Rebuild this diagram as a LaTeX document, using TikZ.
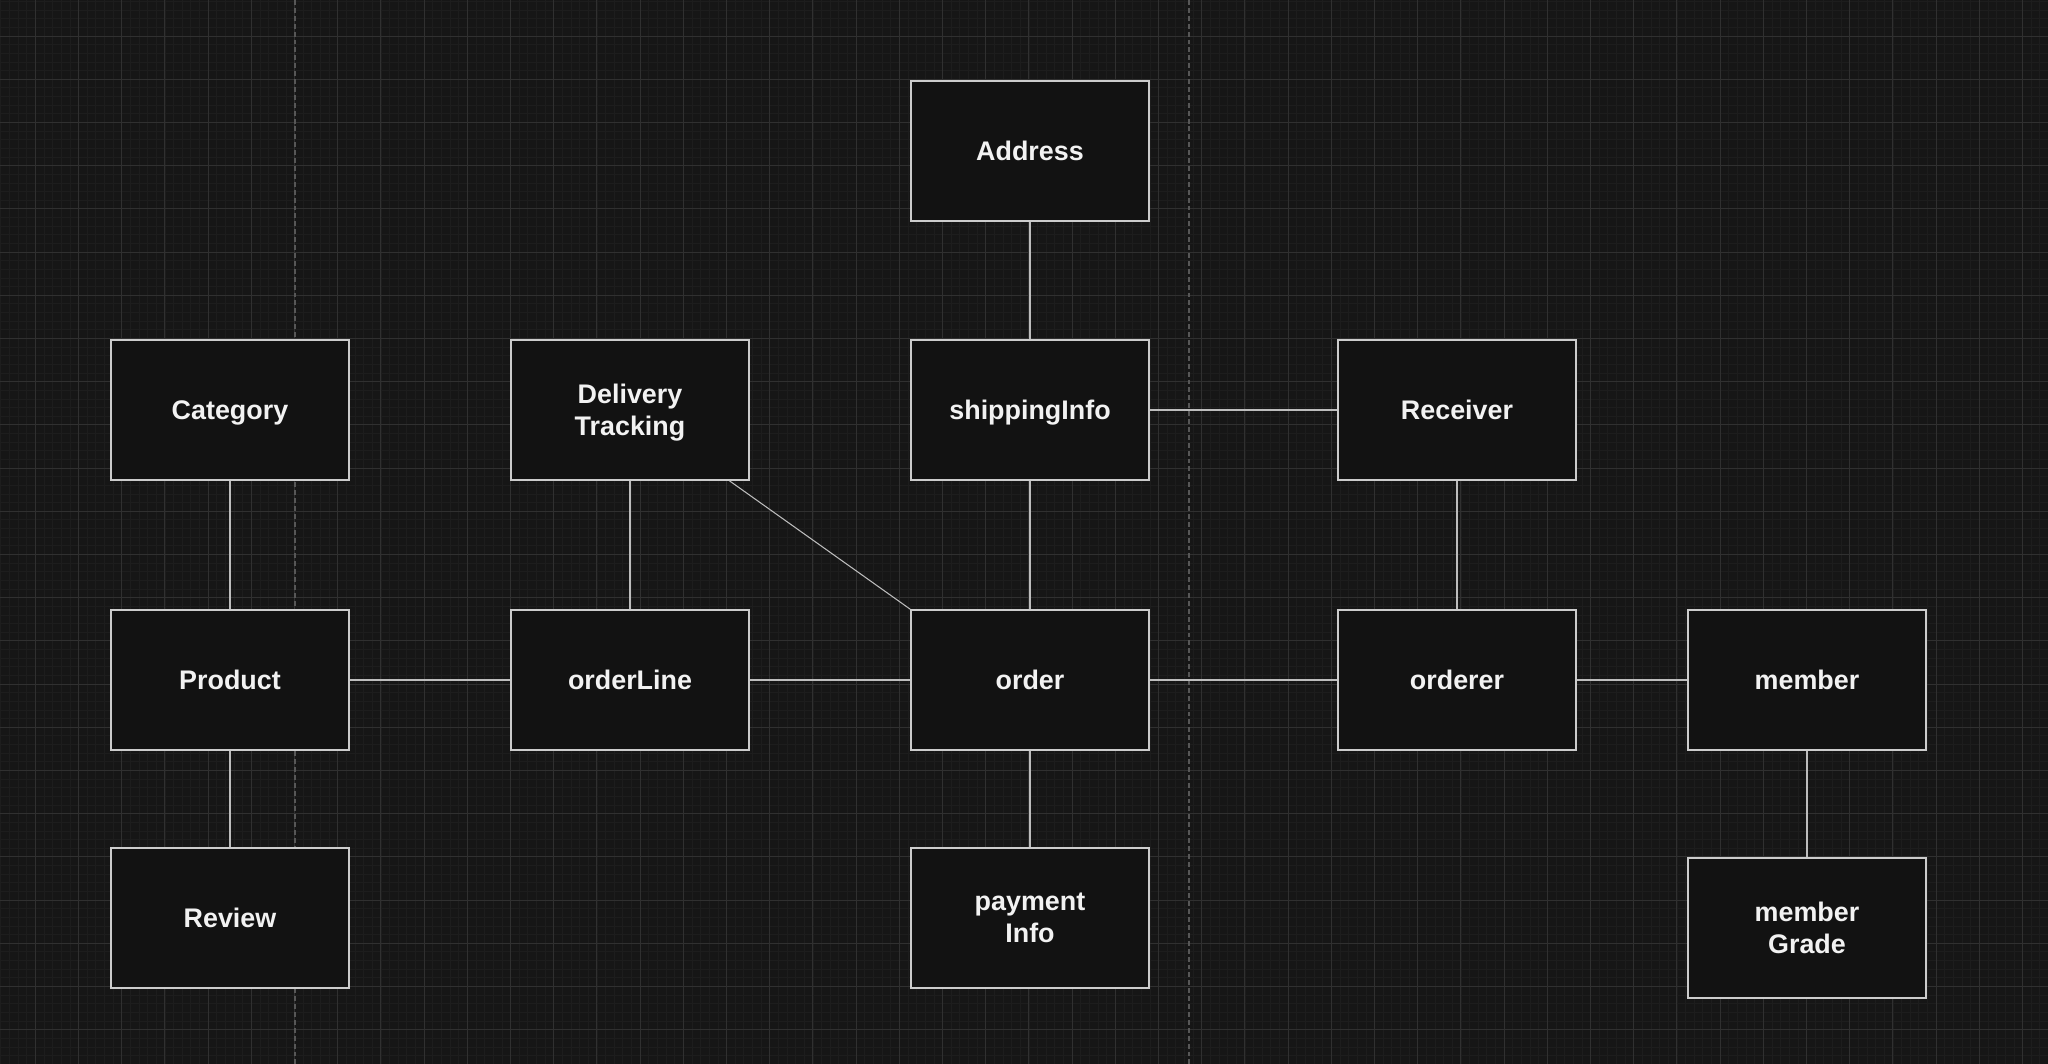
\documentclass[tikz,border=0pt]{standalone}
\usepackage{fontspec}
\setmainfont{Liberation Sans}
\definecolor{bgcol}{HTML}{161616}
\definecolor{gridmajor}{HTML}{303030}
\definecolor{gridminor}{HTML}{1D1D1D}
\definecolor{guidecol}{HTML}{575757}
\definecolor{boxfill}{HTML}{121212}
\definecolor{boxline}{HTML}{CCCCCC}
\definecolor{linkcol}{HTML}{BDBDBD}
\begin{document}
\begin{tikzpicture}[x=0.02cm, y=-0.02cm,
  entity/.style={draw=boxline, fill=boxfill, line width=0.9pt,
    minimum width=4.76cm, minimum height=2.8cm, inner sep=0pt,
    text depth=0pt, align=center, text=white!95!black,
    font=\bfseries\fontsize{15.3}{18.2}\selectfont},
  link/.style={draw=linkcol, line width=0.6pt}]
  \useasboundingbox (0,0) rectangle (2048,1064);
  % fondo y cuadricula
  \fill[bgcol] (0,0) rectangle (2048,1064);
  \foreach \i in {-5,...,237}
    \draw[gridminor, line width=0.4pt] ({35.3+8.64*\i},0) -- ++(0,1064);
  \foreach \j in {-5,...,124}
    \draw[gridminor, line width=0.4pt] (0,{36+8.64*\j}) -- ++(2048,0);
  \foreach \i in {-1,...,47}
    \draw[gridmajor, line width=0.5pt] ({35.3+43.2*\i},0) -- ++(0,1064);
  \foreach \j in {-1,...,24}
    \draw[gridmajor, line width=0.5pt] (0,{36+43.2*\j}) -- ++(2048,0);
  % guias
  \draw[guidecol, line width=0.6pt, dash pattern=on 2.8pt off 1.7pt] (295,0) -- (295,1064);
  \draw[guidecol, line width=0.6pt, dash pattern=on 2.8pt off 1.7pt] (1189,0) -- (1189,1064);
  % entidades
  \node[entity] (address)  at (1030,151) {Address};
  \node[entity] (category) at (230,410)  {Category};
  \node[entity] (delivery) at (630,410)  {Delivery\\Tracking};
  \node[entity] (shipping) at (1030,410) {shippingInfo};
  \node[entity] (receiver) at (1457,410) {Receiver};
  \node[entity] (product)  at (230,680)  {Product};
  \node[entity] (line)     at (630,680)  {orderLine};
  \node[entity] (order)    at (1030,680) {order};
  \node[entity] (orderer)  at (1457,680) {orderer};
  \node[entity] (member)   at (1807,680) {member};
  \node[entity] (review)   at (230,918)  {Review};
  \node[entity] (payment)  at (1030,918) {payment\\Info};
  \node[entity] (grade)    at (1807,928) {member\\Grade};
  % relaciones
  \draw[link] (address) -- (shipping);
  \draw[link] (shipping) -- (receiver);
  \draw[link] (shipping) -- (order);
  \draw[link] (category) -- (product);
  \draw[link] (product) -- (review);
  \draw[link] (product) -- (line);
  \draw[link] (line) -- (order);
  \draw[link] (delivery) -- (line);
  \draw[link] (delivery) -- (order.north west);
  \draw[link] (order) -- (orderer);
  \draw[link] (order) -- (payment);
  \draw[link] (receiver) -- (orderer);
  \draw[link] (orderer) -- (member);
  \draw[link] (member) -- (grade);
\end{tikzpicture}
\end{document}
